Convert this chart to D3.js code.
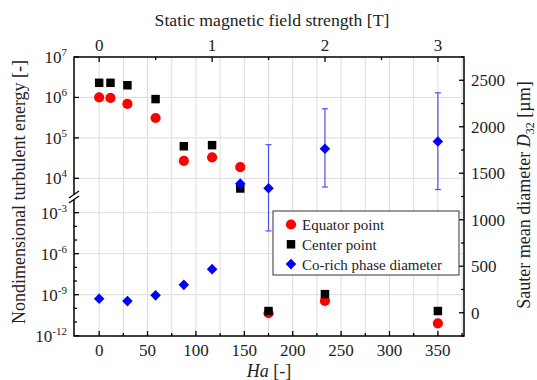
<!DOCTYPE html>
<html>
<head>
<meta charset="utf-8">
<script src="https://cdn.jsdelivr.net/npm/d3@7.9.0/dist/d3.min.js"></script>
<style>
  body { margin: 0; background: #fff; }
</style>
</head>
<body>
<svg id="chart" width="537" height="380" font-family="'Liberation Serif', 'DejaVu Serif', serif"></svg>
<script>
// Ha number for each measured field strength
const fieldT = [0, 0.1, 0.25, 0.5, 0.75, 1.0, 1.25, 1.5, 2.0, 3.0];
const haValues = [0, 11.7, 29.2, 58.3, 87.5, 116.7, 145.8, 175, 233.3, 350];

// nondimensional turbulent energy
const equatorEnergy = [1.0e6, 9.7e5, 6.9e5, 3.1e5, 2.7e4, 3.3e4, 1.9e4, 4.4e-11, 3.5e-10, 8e-12];
const centerEnergy = [2.3e6, 2.3e6, 2.0e6, 9.1e5, 6.2e4, 6.6e4, 5.6e3, 6.4e-11, 1.1e-9, 6.4e-11];

// Co-rich phase Sauter mean diameter [um]
const diamHa = [0, 29.2, 58.3, 87.5, 116.7, 145.8, 175, 233.3, 350];
const diamD32 = [150, 125, 187, 300, 469, 1388, 1338, 1764, 1842];
const diamLow = [null, null, null, null, null, null, 880, 1352, 1325];
const diamHigh = [null, null, null, null, null, null, 1807, 2193, 2365];

const haTicks = [0, 50, 100, 150, 200, 250, 300, 350];
const teslaTicks = [0, 1, 2, 3];
const upperExp = [4, 5, 6, 7];
const lowerExp = [-12, -9, -6, -3];
const d32Ticks = [0, 500, 1000, 1500, 2000, 2500];

const legendItems = ["Equator point", "Center point", "Co-rich phase diameter"];

const svg = d3.select('#chart');
const pLeft = 74, pRight = 464, pTop = 57, pBottom = 336;
const breakY = 197;

// scales
const x = d3.scaleLinear().domain([-26, 377]).range([pLeft, pRight]);
const xT = d3.scaleLinear().domain([-26 / 116.7, 377 / 116.7]).range([pLeft, pRight]);
const yUp = d3.scaleLog().domain([1e4, 1e7]).range([178.3, 57]);
const yLow = d3.scaleLog().domain([1e-12, 1e-3]).range([335.7, 212.7]);
const yR = d3.scaleLinear().domain([-250, 2750]).range([pBottom, pTop]);
const yE = v => v >= 1 ? yUp(v) : yLow(v);

const grid = svg.append('g').attr('stroke', '#dcdcdc').attr('stroke-width', 1);
// vertical grid every 25 Ha
d3.range(0, 376, 25).forEach(h => {
  grid.append('line').attr('x1', x(h)).attr('x2', x(h)).attr('y1', pTop).attr('y2', pBottom);
});
[4, 5, 6].forEach(e => grid.append('line').attr('x1', pLeft).attr('x2', pRight).attr('y1', yUp(10 ** e)).attr('y2', yUp(10 ** e)));
[-9, -6, -3].forEach(e => grid.append('line').attr('x1', pLeft).attr('x2', pRight).attr('y1', yLow(10 ** e)).attr('y2', yLow(10 ** e)));

// frame
svg.append('rect').attr('x', pLeft).attr('y', pTop).attr('width', pRight - pLeft).attr('height', pBottom - pTop)
  .attr('fill', 'none').attr('stroke', '#000').attr('stroke-width', 1.5);

const ticks = svg.append('g').attr('stroke', '#000').attr('stroke-width', 1.3);
// bottom ticks (inward)
d3.range(0, 376, 25).forEach(h => {
  const len = h % 50 === 0 ? 5 : 3;
  ticks.append('line').attr('x1', x(h)).attr('x2', x(h)).attr('y1', pBottom).attr('y2', pBottom - len);
});
// top ticks
d3.range(0, 3.01, 0.5).forEach(t => {
  const len = Number.isInteger(t) ? 5 : 3;
  ticks.append('line').attr('x1', xT(t)).attr('x2', xT(t)).attr('y1', pTop).attr('y2', pTop + len);
});
// left ticks
upperExp.forEach(e => ticks.append('line').attr('x1', pLeft).attr('x2', pLeft + 5).attr('y1', yUp(10 ** e)).attr('y2', yUp(10 ** e)));
d3.range(-12, -2).forEach(e => {
  const len = e % 3 === 0 ? 5 : 3;
  ticks.append('line').attr('x1', pLeft).attr('x2', pLeft + len).attr('y1', yLow(10 ** e)).attr('y2', yLow(10 ** e));
});
// right ticks
d3.range(-250, 2751, 250).forEach(v => {
  const len = v % 500 === 0 ? 5 : 3;
  ticks.append('line').attr('x1', pRight).attr('x2', pRight - len).attr('y1', yR(v)).attr('y2', yR(v));
});

// axis break on left
svg.append('rect').attr('x', pLeft - 2).attr('y', breakY - 2.5).attr('width', 4).attr('height', 5).attr('fill', '#fff');
[-2.5, 2.5].forEach(dy => {
  svg.append('line').attr('x1', pLeft - 5).attr('y1', breakY + dy + 3.5).attr('x2', pLeft + 5).attr('y2', breakY + dy - 3.5)
    .attr('stroke', '#000').attr('stroke-width', 1.3);
});

// tick labels
const fs = 17;
const lab = svg.append('g').attr('font-size', fs).attr('fill', '#222');
haTicks.forEach(h => lab.append('text').attr('x', x(h)).attr('y', 356).attr('text-anchor', 'middle').text(h));
teslaTicks.forEach(t => lab.append('text').attr('x', xT(t)).attr('y', 51).attr('text-anchor', 'middle').text(t));
d32Ticks.forEach(v => lab.append('text').attr('x', 471).attr('y', yR(v) + 6).text(v));
function powLabel(y, e) {
  const t = lab.append('text').attr('x', 67).attr('y', y + 6).attr('text-anchor', 'end');
  t.append('tspan').text('10');
  t.append('tspan').attr('font-size', 11).attr('dy', -7).text(e);
}
upperExp.forEach(e => powLabel(yUp(10 ** e), e));
lowerExp.forEach(e => powLabel(yLow(10 ** e), e));

// axis titles
const tf = 18;
svg.append('text').attr('x', 272).attr('y', 26).attr('text-anchor', 'middle').attr('font-size', 17.7).attr('fill', '#222')
  .text('Static magnetic field strength [T]');
const xt = svg.append('text').attr('x', 269).attr('y', 377).attr('text-anchor', 'middle').attr('font-size', tf).attr('fill', '#222');
xt.append('tspan').attr('font-style', 'italic').text('Ha');
xt.append('tspan').text(' [-]');
svg.append('text').attr('transform', 'translate(25,192) rotate(-90)').attr('text-anchor', 'middle')
  .attr('font-size', tf).attr('fill', '#222').text('Nondimensional turbulent energy [-]');
const rt = svg.append('text').attr('transform', 'translate(530,195) rotate(-90)').attr('text-anchor', 'middle')
  .attr('font-size', tf).attr('fill', '#222');
rt.append('tspan').text('Sauter mean diameter ');
rt.append('tspan').attr('font-style', 'italic').text('D');
rt.append('tspan').attr('font-size', 12).attr('dy', 4).text('32');
rt.append('tspan').attr('dy', -4).text(' [\u00b5m]');

// error bars
const eb = svg.append('g').attr('stroke', '#4d4df0').attr('stroke-width', 1.2);
diamHa.forEach((h, i) => {
  if (diamLow[i] == null) return;
  const cx = x(h);
  eb.append('line').attr('x1', cx).attr('x2', cx).attr('y1', yR(diamLow[i])).attr('y2', yR(diamHigh[i]));
  [diamLow[i], diamHigh[i]].forEach(v => eb.append('line').attr('x1', cx - 3).attr('x2', cx + 3).attr('y1', yR(v)).attr('y2', yR(v)));
});

// markers
const circleSym = d3.symbol().type(d3.symbolCircle).size(82);
const squareSym = d3.symbol().type(d3.symbolSquare).size(72);
const diamondSym = d3.symbol().type(d3.symbolSquare).size(56); // rotated 45deg below

svg.append('g').selectAll('path').data(haValues).join('path')
  .attr('d', circleSym).attr('fill', '#f00')
  .attr('transform', (h, i) => `translate(${x(h)},${yE(equatorEnergy[i])})`);
svg.append('g').selectAll('path').data(haValues).join('path')
  .attr('d', squareSym).attr('fill', '#000')
  .attr('transform', (h, i) => `translate(${x(h)},${yE(centerEnergy[i])})`);
svg.append('g').selectAll('path').data(diamHa).join('path')
  .attr('d', diamondSym).attr('fill', '#00f')
  .attr('transform', (h, i) => `translate(${x(h)},${yR(diamD32[i])}) rotate(45)`);

// legend
const lg = svg.append('g').attr('transform', 'translate(273,211)');
lg.append('rect').attr('width', 186).attr('height', 64).attr('fill', '#fff').attr('stroke', '#555').attr('stroke-width', 1.2);
const syms = [[circleSym, '#f00', 0], [squareSym, '#000', 0], [diamondSym, '#00f', 45]];
legendItems.forEach((name, i) => {
  const cy = 13.5 + i * 19.8;
  lg.append('path').attr('d', syms[i][0]).attr('fill', syms[i][1])
    .attr('transform', `translate(18,${cy}) rotate(${syms[i][2]})`);
  lg.append('text').attr('x', 29).attr('y', cy + 5.5).attr('font-size', 15).attr('fill', '#222').text(name);
});
</script>
</body>
</html>
